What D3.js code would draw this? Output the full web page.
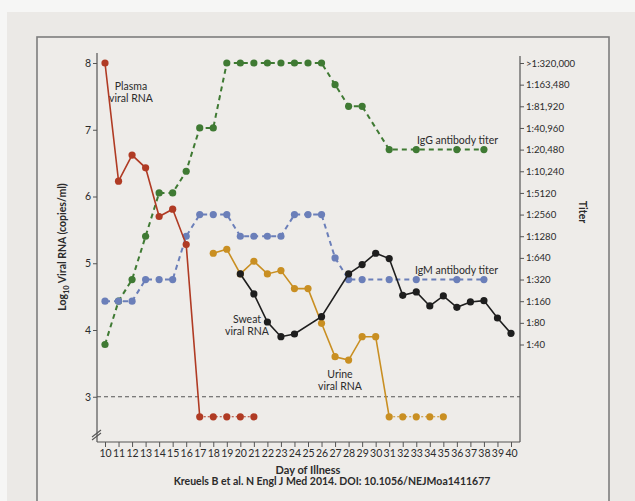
<!DOCTYPE html>
<html>
<head>
<meta charset="utf-8">
<script src="https://cdn.jsdelivr.net/npm/d3@7"></script>
<style>
  html, body { margin: 0; padding: 0; background: #f6f6f5; }
  svg { display: block; }
  text { font-family: Lato, "Open Sans", sans-serif; fill: #2b2b2b; }
</style>
</head>
<body>
<svg id="chart" width="635" height="501"></svg>
<script>
// Day-of-illness tick labels
const dayTicks = [10,11,12,13,14,15,16,17,18,19,20,21,22,23,24,25,26,27,28,29,30,31,32,33,34,35,36,37,38,39,40];
// Left axis ticks (log10 copies/ml)
const logTicks = [3,4,5,6,7,8];
// Right axis titer labels, top to bottom
const titerLabels = [">1:320,000","1:163,480","1:81,920","1:40,960","1:20,480","1:10,240","1:5120","1:2560","1:1280","1:640","1:320","1:160","1:80","1:40"];

// Value plotted for samples below the detection limit
const belowLimit = 2.7;

// Plasma viral RNA (log10 copies/ml)
const plasmaDays = [10,11,12,13,14,15,16,17,18,19,20,21];
const plasmaVals = [8.0,6.23,6.62,6.43,5.70,5.81,5.28,2.7,2.7,2.7,2.7,2.7];

// Urine viral RNA
const urineDays = [18,19,20,21,22,23,24,25,26,27,28,29,30,31,32,33,34,35];
const urineVals = [5.15,5.21,4.84,5.03,4.84,4.89,4.62,4.62,4.10,3.60,3.55,3.90,3.90,2.7,2.7,2.7,2.7,2.7];

// Sweat viral RNA
const sweatDays = [20,21,22,23,24,26,28,29,30,31,32,33,34,35,36,37,38,39,40];
const sweatVals = [4.84,4.54,4.12,3.90,3.94,4.20,4.84,4.98,5.15,5.07,4.52,4.57,4.36,4.51,4.34,4.42,4.44,4.18,3.95];

// Antibody titers
const titerDays = [10,11,12,13,14,15,16,17,18,19,20,21,22,23,24,25,26,27,28,29,31,33,36,38];
const iggTiters = ["1:40","1:160","1:320","1:1280","1:5120","1:5120","1:10,240","1:40,960","1:40,960",
  ">1:320,000",">1:320,000",">1:320,000",">1:320,000",">1:320,000",">1:320,000",">1:320,000",">1:320,000",
  "1:163,480","1:81,920","1:81,920","1:20,480","1:20,480","1:20,480","1:20,480"];
const igmTiters = ["1:160","1:160","1:160","1:320","1:320","1:320","1:1280","1:2560","1:2560","1:2560",
  "1:1280","1:1280","1:1280","1:1280","1:2560","1:2560","1:2560","1:640","1:320","1:320","1:320","1:320","1:320","1:320"];

const colors = {
  plasma: "#b03b24",
  urine: "#c98f22",
  sweat: "#1e1e1e",
  igg: "#3f7a33",
  igm: "#6b7fb9"
};

const svg = d3.select("#chart");

// Panel background and frame
svg.append("rect").attr("x", 7).attr("y", 12).attr("width", 628).attr("height", 489).attr("fill", "#ebe9e6");
svg.append("rect").attr("x", 37).attr("y", 37).attr("width", 572).attr("height", 480)
  .attr("fill", "#eeece9").attr("stroke", "#7d7d7d").attr("stroke-width", 1.6);

const plotLeft = 97, plotRight = 520, plotBottom = 442;

const x = d3.scaleLinear().domain([10, 40]).range([105, 511]);
const y = d3.scaleLinear().domain([3, 8]).range([396.75, 63]);
const yT = d3.scalePoint().domain(titerLabels).range([63, 344.5]).padding(0);

// Axis lines
const axisColor = "#555";
svg.append("line").attr("x1", plotLeft).attr("x2", plotLeft).attr("y1", 53).attr("y2", plotBottom)
  .attr("stroke", axisColor).attr("stroke-width", 1.2);
svg.append("line").attr("x1", plotRight).attr("x2", plotRight).attr("y1", 56).attr("y2", plotBottom)
  .attr("stroke", axisColor).attr("stroke-width", 1.2);
svg.append("line").attr("x1", plotLeft).attr("x2", plotRight).attr("y1", plotBottom).attr("y2", plotBottom)
  .attr("stroke", axisColor).attr("stroke-width", 1.2);

// Axis break on the left axis
const brk = svg.append("g").attr("stroke", axisColor).attr("stroke-width", 1.1);
brk.append("line").attr("x1", plotLeft - 5).attr("y1", 437).attr("x2", plotLeft + 4).attr("y2", 430);
brk.append("line").attr("x1", plotLeft - 5).attr("y1", 440).attr("x2", plotLeft + 4).attr("y2", 433);

// Left axis ticks
const gL = svg.append("g").attr("transform", `translate(${plotLeft},0)`)
  .call(d3.axisLeft(y).tickValues(logTicks).tickSize(4).tickPadding(2).tickFormat(d3.format("d")));
gL.select(".domain").remove();
gL.selectAll(".tick line").attr("stroke", axisColor);
gL.selectAll(".tick text").attr("font-size", 10.5).attr("font-family", "Lato, sans-serif").attr("fill", "#2b2b2b");

// Right axis ticks
const gR = svg.append("g").attr("transform", `translate(${plotRight},0)`)
  .call(d3.axisRight(yT).tickSize(4).tickPadding(2));
gR.select(".domain").remove();
gR.selectAll(".tick line").attr("stroke", axisColor);
gR.selectAll(".tick text").attr("font-size", 9.6).attr("font-family", "Lato, sans-serif").attr("fill", "#2b2b2b");

// Bottom axis ticks
const gB = svg.append("g").attr("transform", `translate(0,${plotBottom})`)
  .call(d3.axisBottom(x).tickValues(dayTicks).tickSize(5).tickPadding(3).tickFormat(d3.format("d")));
gB.select(".domain").remove();
gB.selectAll(".tick line").attr("stroke", axisColor);
gB.selectAll(".tick text").attr("font-size", 10.5).attr("font-family", "Lato, sans-serif").attr("fill", "#2b2b2b");

// Detection limit reference line
svg.append("line").attr("x1", plotLeft).attr("x2", plotRight).attr("y1", y(3)).attr("y2", y(3))
  .attr("stroke", "#555").attr("stroke-width", 1).attr("stroke-dasharray", "4,3");

// Axis titles
const leftTitle = svg.append("text")
  .attr("transform", "translate(66,247) rotate(-90)")
  .attr("text-anchor", "middle").attr("font-size", 10.5).attr("font-weight", "bold");
leftTitle.append("tspan").text("Log");
leftTitle.append("tspan").attr("font-size", 7.5).attr("dy", 3).text("10");
leftTitle.append("tspan").attr("dy", -3).text(" Viral RNA (copies/ml)");

svg.append("text").attr("transform", "translate(579,212) rotate(90)")
  .attr("text-anchor", "middle").attr("font-size", 10.5).attr("font-weight", "bold").text("Titer");

svg.append("text").attr("x", 308).attr("y", 474).attr("text-anchor", "middle")
  .attr("font-size", 11).attr("font-weight", "bold").text("Day of Illness");
svg.append("text").attr("x", 332).attr("y", 485).attr("text-anchor", "middle")
  .attr("font-size", 10.5).attr("font-weight", "bold")
  .text("Kreuels B et al. N Engl J Med 2014. DOI: 10.1056/NEJMoa1411677");

// Titer series (dashed)
function titerSeries(titers, color) {
  const pts = titerDays.map((d, i) => [x(d), yT(titers[i])]);
  svg.append("path").attr("d", d3.line()(pts)).attr("fill", "none")
    .attr("stroke", color).attr("stroke-width", 2).attr("stroke-dasharray", "5,4");
  svg.append("g").selectAll("circle").data(pts).join("circle")
    .attr("cx", p => p[0]).attr("cy", p => p[1]).attr("r", 3.6).attr("fill", color);
}
titerSeries(iggTiters, colors.igg);
titerSeries(igmTiters, colors.igm);

// Viral RNA series: solid while detectable, dotted below the detection limit
function rnaSeries(days, vals, color) {
  const pts = days.map((d, i) => ({ x: x(d), y: y(vals[i]), low: vals[i] <= belowLimit }));
  const firstLow = pts.findIndex(p => p.low);
  const solid = firstLow < 0 ? pts : pts.slice(0, firstLow + 1);
  const dotted = firstLow < 0 ? [] : pts.slice(firstLow);
  const line = d3.line().x(p => p.x).y(p => p.y);
  svg.append("path").attr("d", line(solid)).attr("fill", "none")
    .attr("stroke", color).attr("stroke-width", 1.6);
  if (dotted.length > 1) {
    svg.append("path").attr("d", line(dotted)).attr("fill", "none")
      .attr("stroke", color).attr("stroke-width", 1.1).attr("stroke-dasharray", "2,2");
  }
  svg.append("g").selectAll("circle").data(pts).join("circle")
    .attr("cx", p => p.x).attr("cy", p => p.y).attr("r", 3.6).attr("fill", color);
}
rnaSeries(plasmaDays, plasmaVals, colors.plasma);
rnaSeries(urineDays, urineVals, colors.urine);
rnaSeries(sweatDays, sweatVals, colors.sweat);

// Series labels
function label(lines, cx, cy, anchor) {
  const t = svg.append("text").attr("x", cx).attr("y", cy).attr("text-anchor", anchor || "middle")
    .attr("font-size", 10.5).attr("fill", "#333");
  lines.forEach((s, i) => t.append("tspan").attr("x", cx).attr("dy", i === 0 ? 0 : 11.5).text(s));
}
label(["Plasma", "viral RNA"], 131, 90);
label(["Sweat", "viral RNA"], 247, 323);
label(["Urine", "viral RNA"], 340, 378);
label(["IgG antibody titer"], 417, 144, "start");
label(["IgM antibody titer"], 415, 274, "start");
</script>
</body>
</html>
